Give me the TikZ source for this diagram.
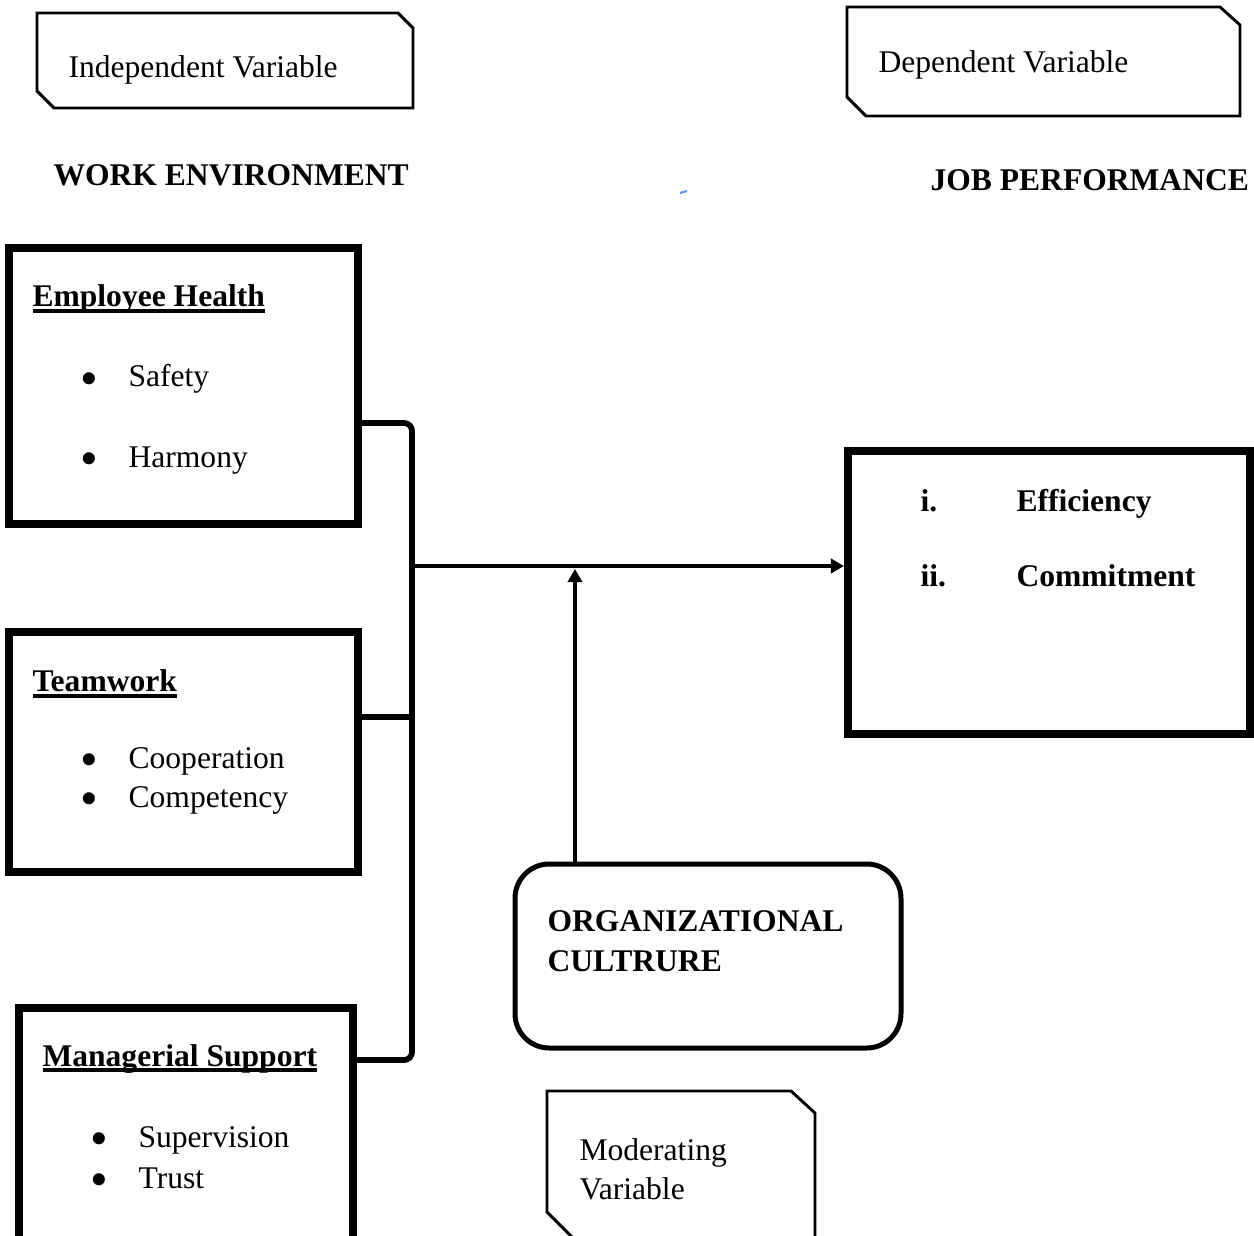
\documentclass[tikz,border=0pt,12pt]{standalone}
\usepackage{fontspec}
\usepackage{graphicx}
\setmainfont{Liberation Serif}
\usetikzlibrary{fit,arrows.meta}
\definecolor{strayblue}{RGB}{90,150,225}
\tikzset{
  varbox/.style={draw,line width=1.1pt,line join=miter},
  block/.style={draw,line width=3pt,inner sep=0pt},
  roundblock/.style={draw,line width=1.9pt,inner sep=0pt,rounded corners=13pt},
  link/.style={line width=2.2pt,rounded corners=3pt},
  arr/.style={line width=1.5pt,-{Triangle[length=5pt,width=5.4pt]}},
  txt/.style={inner sep=0pt,anchor=base west},
  head/.style={txt,font=\bfseries}
}
\newcommand{\bul}[1]{\makebox[17.5pt][l]{\hspace{-0.8pt}\smash{\raisebox{-3.2pt}{\scalebox{1.6}{\textbullet}}}}#1}
\newcommand{\uln}[1]{\setbox0\hbox{#1}\rlap{\rule[-2.2pt]{\wd0}{1.4pt}}\box0}

\begin{document}
\begin{tikzpicture}[x=0.38pt,y=-0.38pt]
  \useasboundingbox (0,0) rectangle (1254,1236);
  \clip (0,0) rectangle (1254,1236);

  % variable tags
  \draw[varbox] (37,13) -- (398,13) -- (413,28) -- (413,108) -- (54,108) -- (37,91) -- cycle;
  \node[txt] (indep) at (68,78) {Independent Variable};
  \draw[varbox] (847,7) -- (1220,7) -- (1240,25) -- (1240,116) -- (866,116) -- (847,97) -- cycle;
  \node[txt] (dep) at (878,73) {Dependent Variable};
  \draw[varbox] (575,1240) -- (547,1212) -- (547,1091) -- (791,1091) -- (815,1113) -- (815,1240);
  \node[txt] (modA) at (579,1160) {Moderating};
  \node[txt] (modB) at (579,1199) {Variable};

  % titles
  \node[head] (workenv) at (53,186) {WORK ENVIRONMENT};
  \node[head] (jobperf) at (930,191) {JOB PERFORMANCE};
  \draw[strayblue,line width=0.8pt] (680,193) -- (687,191);

  % boxes
  \node[block,fit={(9,248)(358,524)}] (eh) {};
  \node[head] (ehT) at (32,307) {\uln{Employee Health}};
  \node[txt] (ehA) at (82,387) {\bul{Safety}};
  \node[txt] (ehB) at (82,467) {\bul{Harmony}};

  \node[block,fit={(9,632)(358,872)}] (tw) {};
  \node[head] (twT) at (32,692) {\uln{Teamwork}};
  \node[txt] (twA) at (82,768) {\bul{Cooperation}};
  \node[txt] (twB) at (82,807) {\bul{Competency}};

  \node[block,fit={(19,1008)(353,1290)}] (ms) {};
  \node[head] (msT) at (42,1066) {\uln{Managerial Support}};
  \node[txt] (msA) at (92,1147) {\bul{Supervision}};
  \node[txt] (msB) at (92,1188) {\bul{Trust}};

  \node[block,fit={(848,451)(1250,734)}] (jp) {};
  \node[head] (jpA) at (920,511) {i.};
  \node[head] (jpB) at (1016,511) {Efficiency};
  \node[head] (jpC) at (920,587) {ii.};
  \node[head] (jpD) at (1016,587) {Commitment};

  \node[roundblock,fit={(515,864)(901,1048)}] (oc) {};
  \node[head] (ocA) at (547,931) {ORGANIZATIONAL};
  \node[head] (ocB) at (547,971) {CULTRURE};

  % connectors
  \coordinate (btop) at (412,423);
  \coordinate (btw) at (412,717);
  \coordinate (bbot) at (412,1060);
  \coordinate (bmid) at (412,566);
  \coordinate (mod) at (575,569);
  \draw[link] (eh.east |- btop) -- (btop) -- (bbot) -- (ms.east |- bbot);
  \draw[link] (tw.east |- btw) -- (btw);
  \draw[arr] (bmid) -- (jp.west |- bmid);
  \draw[arr] (oc.north -| mod) -- (mod);
\end{tikzpicture}
\end{document}
